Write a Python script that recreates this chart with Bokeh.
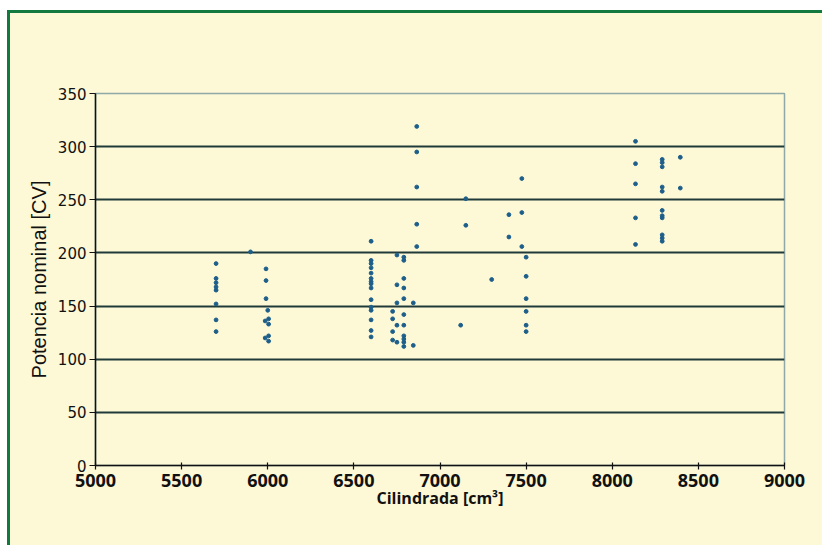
from bokeh.plotting import figure
from bokeh.models import ColumnDataSource, Range1d, FixedTicker
from bokeh.layouts import column
from bokeh.embed import file_html
from bokeh.resources import INLINE

# Cilindrada [cm3]
cilindrada = [
    5700, 5700, 5700, 5700, 5700, 5700, 5700, 5700,
    5900,
    5990, 5990, 5990, 6000, 5985, 6005, 6005, 5985, 6005, 6005,
    6600, 6600, 6600, 6600, 6600, 6600, 6600, 6600, 6600, 6600, 6600, 6600, 6600, 6600, 6600,
    6750, 6790, 6790, 6790, 6750, 6790, 6790, 6750, 6845, 6725, 6790, 6725, 6750, 6790,
    6725, 6790, 6790, 6725, 6750, 6790, 6790, 6845,
    6865, 6865, 6865, 6865, 6865,
    7120, 7150, 7150,
    7300,
    7400, 7400,
    7475, 7475, 7475,
    7500, 7500, 7500, 7500, 7500, 7500,
    8135, 8135, 8135, 8135, 8135,
    8290, 8290, 8290, 8290, 8290, 8290, 8290, 8290, 8290, 8290, 8290,
    8395, 8395,
]
# Potencia nominal [CV]
potencia = [
    190, 176, 172, 168, 165, 152, 137, 126,
    201,
    185, 174, 157, 146, 136, 138, 133, 120, 122, 117,
    211, 193, 190, 186, 181, 176, 173, 171, 167, 156, 149, 146, 137, 127, 121,
    198, 196, 193, 176, 170, 167, 157, 153, 153, 145, 142, 138, 132, 132,
    126, 122, 119, 118, 116, 116, 112, 113,
    319, 295, 262, 227, 206,
    132, 251, 226,
    175,
    236, 215,
    270, 238, 206,
    196, 178, 157, 145, 132, 126,
    305, 284, 265, 233, 208,
    288, 285, 281, 262, 258, 240, 235, 233, 217, 214, 211,
    290, 261,
]

x_ticks = [5000, 5500, 6000, 6500, 7000, 7500, 8000, 8500, 9000]
y_ticks = [0, 50, 100, 150, 200, 250, 300, 350]

BG = "#fdf8d6"

src = ColumnDataSource(data=dict(x=cilindrada, y=potencia))

p = figure(
    output_backend="svg", toolbar_location=None,
    frame_width=689, frame_height=372,
    min_border_left=85, min_border_top=80, min_border_right=38, min_border_bottom=80,
    x_range=Range1d(5000, 9000), y_range=Range1d(0, 350),
    background_fill_color=BG, border_fill_color=BG,
)
p.outline_line_color = "#8fa9a8"
p.outline_line_width = 1.5

p.scatter("x", "y", source=src, size=3.8, color="#1d5f8a", line_color="#1d5f8a")

p.xgrid.grid_line_color = None
p.ygrid.grid_line_color = "#203a3a"
p.ygrid.grid_line_width = 2

p.xaxis.ticker = FixedTicker(ticks=x_ticks)
p.yaxis.ticker = FixedTicker(ticks=y_ticks)
p.xaxis.minor_tick_line_color = None
p.yaxis.minor_tick_line_color = None

for ax in (p.xaxis[0], p.yaxis[0]):
    ax.axis_line_color = "#111111"
    ax.axis_line_width = 1.5
    ax.major_tick_line_color = "#111111"
    ax.major_tick_line_width = 1.2
    ax.major_label_text_color = "#111111"

p.yaxis.major_tick_out = 6
p.yaxis.major_tick_in = 0
p.xaxis.major_tick_out = 4
p.xaxis.major_tick_in = 3

p.yaxis.major_label_text_font = "DejaVu Sans"
p.yaxis.major_label_text_font_size = "15px"
p.yaxis.major_label_text_font_style = "normal"
p.yaxis.major_label_standoff = 3
p.xaxis.major_label_text_font = "Open Sans"
p.xaxis.major_label_text_font_size = "18px"
p.xaxis.major_label_text_font_style = "bold"
p.xaxis.major_label_standoff = 4

p.yaxis.axis_label = "Potencia nominal [CV]"
p.yaxis.axis_label_text_font = "Liberation Sans"
p.yaxis.axis_label_text_font_size = "20px"
p.yaxis.axis_label_text_font_style = "normal"
p.yaxis.axis_label_text_color = "#111111"
p.yaxis.axis_label_standoff = 5

p.xaxis.axis_label = "Cilindrada [cm³]"
p.xaxis.axis_label_text_font = "Open Sans"
p.xaxis.axis_label_text_font_size = "16px"
p.xaxis.axis_label_text_font_style = "bold"
p.xaxis.axis_label_text_color = "#111111"
p.xaxis.axis_label_standoff = -3

layout = column(p, styles={
    "margin-left": "7px", "margin-top": "10px",
    "border-left": "3px solid #137a3f", "border-top": "3px solid #137a3f",
    "background-color": BG,
})

open("out.html", "w").write(file_html(layout, INLINE))
